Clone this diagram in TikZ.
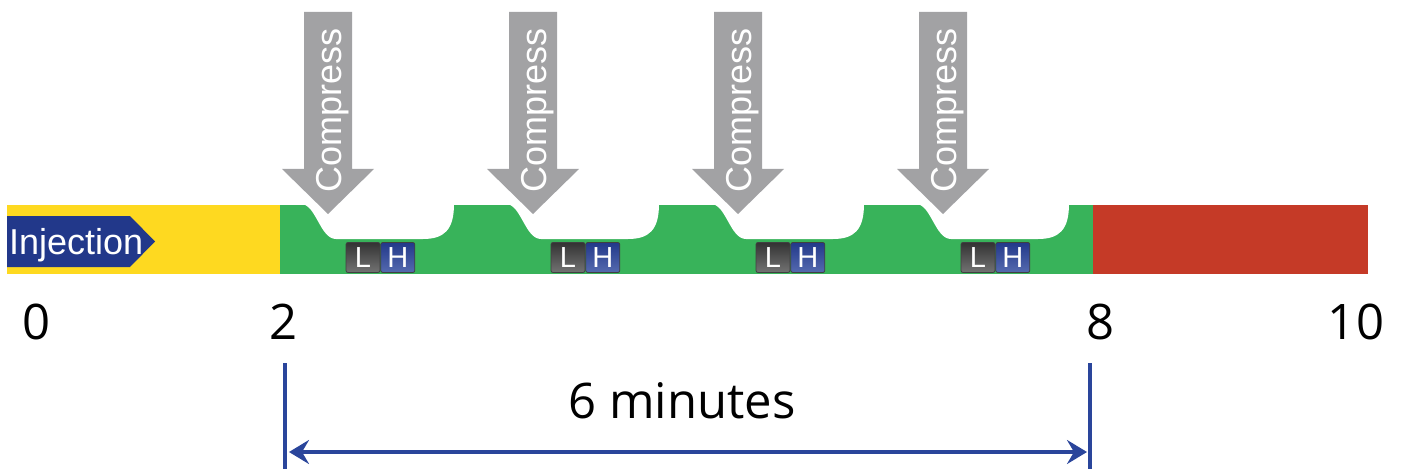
\documentclass[tikz,border=0pt]{standalone}
\usepackage{fontspec}
\setmainfont{Liberation Sans}
\newfontfamily\numfont{Open Sans}
\usetikzlibrary{positioning,arrows.meta}

\definecolor{phaseYellow}{HTML}{FED920}
\definecolor{phaseGreen}{HTML}{38B35A}
\definecolor{phaseRed}{HTML}{C53A27}
\definecolor{injBlue}{HTML}{22388A}
\definecolor{compGray}{HTML}{A2A2A4}
\definecolor{dimBlue}{HTML}{2A459B}

\begin{document}
\begin{tikzpicture}[x=1pt,y=-1pt,
	comp/.style={text=white,font=\fontsize{36}{40}\selectfont,rotate=90,anchor=base,inner sep=0pt},
	keybox/.style={minimum width=34pt,minimum height=30pt,inner sep=0pt,rounded corners=2pt,
		draw=black!75,line width=0.8pt,text=white,font=\fontsize{29}{32}\selectfont},
	lowkey/.style={keybox,top color=black!80,bottom color=black!55},
	highkey/.style={keybox,top color=injBlue,bottom color=dimBlue!80!white},
	tick/.style={font=\numfont\fontsize{49}{55}\selectfont},
	dim/.style={draw=dimBlue,line width=4pt}]
	\useasboundingbox (0,0) rectangle (1403,476);
	\fill[phaseYellow] (7,205) rectangle (280,274);
	\fill[phaseGreen] (280,205) rectangle (1093,274);
	\fill[phaseRed] (1093,205) rectangle (1368,274);
	\fill[injBlue] (7,216) -- (130,216) -- (155,241.5) -- (130,267) -- (7,267) -- cycle;
	\node[anchor=base west,inner sep=0pt,text=white,font=\fontsize{36}{40}\selectfont] (inj) at (9,254) {Injection};
	\foreach \X [count=\Z] in {328,533,738,943}
	{
		\fill[white] (\X-27,204) .. controls (\X-12,204) and (\X-8,239) .. (\X+8,239) -- (\X+95,239)
			.. controls (\X+116,239) and (\X+126,230) .. (\X+126,204) -- cycle;
		\fill[compGray] (\X-24,12) -- (\X+24,12) -- (\X+24,169) -- (\X+46,169) -- (\X,214)
			-- (\X-46,169) -- (\X-24,169) -- cycle;
		\node[comp] (c\Z) at (\X+13,110) {Compress};
		\node[lowkey] (l\Z) at (\X+35,257.5) {L};
		\node[highkey,right=0pt of l\Z] (h\Z) {H};
	}
	\foreach \X/\T [count=\Z] in {37/0, 284/2, 1100/8, 1356/10}
	{\node[tick] (n\Z) at (\X,322) {\T};}
	\coordinate (s2) at (285,363);
	\coordinate (e2) at (285,469);
	\coordinate (s8) at (1090,363);
	\coordinate (e8) at (1090,469);
	\draw[dim] (s2) -- (e2);
	\draw[dim] (s8) -- (e8);
	\coordinate (a2) at (289,452);
	\coordinate (a8) at (1087,452);
	\draw[dimBlue,line width=4pt,{Stealth[length=20pt,width=24pt,inset=7pt]}-{Stealth[length=20pt,width=24pt,inset=7pt]}] (a2) -- (a8);
	\node[tick] (span) at (682,401) {6 minutes};
\end{tikzpicture}
\end{document}
